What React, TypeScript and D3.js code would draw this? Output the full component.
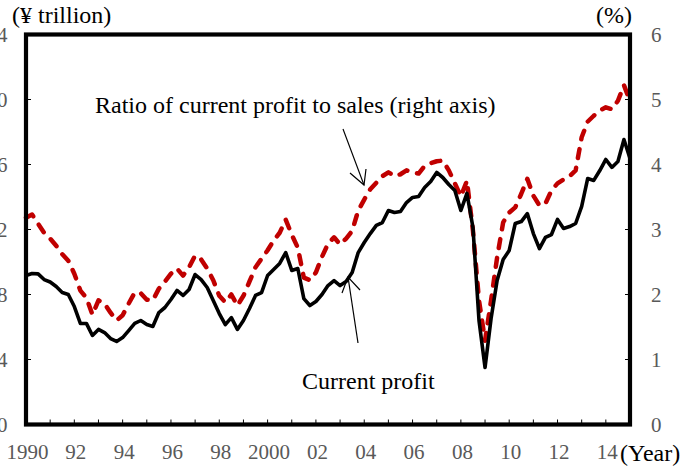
import React from "react";
import * as d3 from "d3";

// Current profit, ¥ trillion (quarterly, 1990Q1 – 2015Q1)
const currentProfit = [
  9.17, 9.29, 9.27, 8.92, 8.77, 8.49, 8.12, 8.0, 7.26, 6.22,
  6.22, 5.48, 5.85, 5.66, 5.29, 5.11, 5.35, 5.78, 6.22, 6.4,
  6.15, 6.03, 6.89, 7.2, 7.69, 8.25, 7.94, 8.31, 9.23, 8.92,
  8.43, 7.63, 6.83, 6.15, 6.58, 5.85, 6.4, 7.14, 7.94, 8.12,
  9.17, 9.54, 9.91, 10.58, 9.48, 9.6, 7.75, 7.32, 7.57, 8.0,
  8.55, 8.86, 8.55, 8.8, 9.35, 10.58, 11.2, 11.75, 12.25, 12.43,
  13.17, 13.05, 13.11, 13.66, 13.97, 14.03, 14.58, 14.95, 15.51, 15.2,
  14.77, 14.4, 13.17, 14.22, 12.12, 6.4, 3.51, 6.52, 8.86, 10.15,
  10.71, 12.37, 12.49, 12.98, 11.75, 10.83, 11.51, 11.69, 12.62, 12.06,
  12.18, 12.37, 13.42, 15.14, 15.02, 15.63, 16.31, 15.82, 16.18, 17.54,
  16.37,
];

// Ratio of current profit to sales, % (right axis)
const profitRatio = [
  3.18, 3.23, 3.09, 2.95, 2.86, 2.75, 2.62, 2.52, 2.32, 2.06,
  1.95, 1.69, 1.91, 1.86, 1.72, 1.6, 1.68, 1.86, 2.03, 2.02,
  1.92, 1.91, 2.09, 2.2, 2.32, 2.4, 2.29, 2.42, 2.6, 2.54,
  2.4, 2.22, 1.98, 1.88, 2.0, 1.83, 1.98, 2.2, 2.42, 2.55,
  2.68, 2.83, 2.95, 3.15, 2.92, 2.72, 2.26, 2.22, 2.34, 2.58,
  2.78, 2.88, 2.77, 2.86, 2.98, 3.29, 3.46, 3.62, 3.72, 3.82,
  3.88, 3.82, 3.85, 3.91, 3.88, 3.86, 3.98, 4.02, 4.05, 4.06,
  3.91, 3.71, 3.51, 3.75, 2.98, 1.91, 1.29, 1.91, 2.57, 3.11,
  3.26, 3.34, 3.55, 3.78, 3.52, 3.37, 3.4, 3.6, 3.71, 3.77,
  3.82, 3.91, 4.42, 4.66, 4.75, 4.83, 4.88, 4.85, 4.98, 5.22,
  4.97,
];

const startYear = 1990;
const xTickYears = [1990, 1992, 1994, 1996, 1998, 2000, 2002, 2004, 2006, 2008, 2010, 2012, 2014];
const xTickLabels = ["1990", "92", "94", "96", "98", "2000", "02", "04", "06", "08", "10", "12", "14"];
const leftTicks = [0, 4, 8, 12, 16, 20, 24];
const rightTicks = [0, 1, 2, 3, 4, 5, 6];

const W = 696;
const H = 471;
const X0 = 26;
const X1 = 630;
const Y0 = 34.5;
const Y1 = 424.5;

const FONT = "'Liberation Serif', 'Times New Roman', serif";
const GRAY = "#595959";

export default function App() {
  const times = currentProfit.map((_, i) => startYear + i / 4);
  const x = d3.scaleLinear().domain([1990, 2015]).range([X0, X1]);
  const yL = d3.scaleLinear().domain([0, 24]).range([Y1, Y0]);
  const yR = d3.scaleLinear().domain([0, 6]).range([Y1, Y0]);

  const profitLine = d3
    .line<number>()
    .x((_, i) => x(times[i]))
    .y((d) => yL(d))(currentProfit) as string;
  const ratioLine = d3
    .line<number>()
    .x((_, i) => x(times[i]))
    .y((d) => yR(d))(profitRatio) as string;

  const yearTicks = d3.range(1991, 2015);

  return (
    <svg
      width={W}
      height={H}
      style={{ position: "absolute", left: 0, top: 0, fontFamily: FONT }}
    >
      <rect x={0} y={0} width={W} height={H} fill="#fff" />

      {/* series */}
      <path d={ratioLine} fill="none" stroke="#C00000" strokeWidth={4.5}
        strokeDasharray="9,10" strokeLinecap="round" strokeLinejoin="round" />
      <path d={profitLine} fill="none" stroke="#000" strokeWidth={3.6}
        strokeLinejoin="round" />

      {/* ticks */}
      {leftTicks.map((t) => (
        <line key={"lt" + t} x1={X0} x2={X0 + 5} y1={yL(t)} y2={yL(t)} stroke="#000" strokeWidth={1} />
      ))}
      {rightTicks.map((t) => (
        <line key={"rt" + t} x1={X1 - 5} x2={X1} y1={yR(t)} y2={yR(t)} stroke="#000" strokeWidth={1} />
      ))}
      {yearTicks.map((t) => (
        <line key={"xt" + t} x1={x(t)} x2={x(t)} y1={Y1} y2={Y1 - 5} stroke="#000" strokeWidth={1} />
      ))}

      {/* frame */}
      <rect x={X0} y={Y0} width={X1 - X0} height={Y1 - Y0} fill="none" stroke="#000" strokeWidth={4.2} />

      {/* tick labels */}
      {leftTicks.map((t) => (
        <text key={"ll" + t} x={7.5} y={yL(t)} dy="0.35em" textAnchor="end" fontSize={21} fill={GRAY}>
          {t}
        </text>
      ))}
      {rightTicks.map((t) => (
        <text key={"rl" + t} x={651} y={yR(t)} dy="0.35em" textAnchor="start" fontSize={21} fill={GRAY}>
          {t}
        </text>
      ))}
      {xTickYears.map((t, i) => (
        <text key={"xl" + t} x={x(t) + 1.5} y={459} textAnchor="middle" fontSize={21} fill={GRAY}>
          {xTickLabels[i]}
        </text>
      ))}

      {/* axis titles */}
      <text x={12} y={23} fontSize={24} fill="#000">(¥ trillion)</text>
      <text x={632} y={23} fontSize={24} fill="#000" textAnchor="end">(%)</text>
      <text x={620} y={461} fontSize={24} fill="#000">(Year)</text>

      {/* annotations */}
      <text x={95} y={113} fontSize={24} fill="#000">Ratio of current profit to sales (right axis)</text>
      <text x={302} y={389} fontSize={24} fill="#000">Current profit</text>

      <g stroke="#000" strokeWidth={1.2} fill="none">
        <line x1={343} y1={129} x2={364} y2={185} />
        <polyline points="350,173 364,185 366,169" />
        <line x1={358} y1={343} x2={348} y2={277} />
        <polyline points="342,293 348,277 360,290" />
      </g>
    </svg>
  );
}
